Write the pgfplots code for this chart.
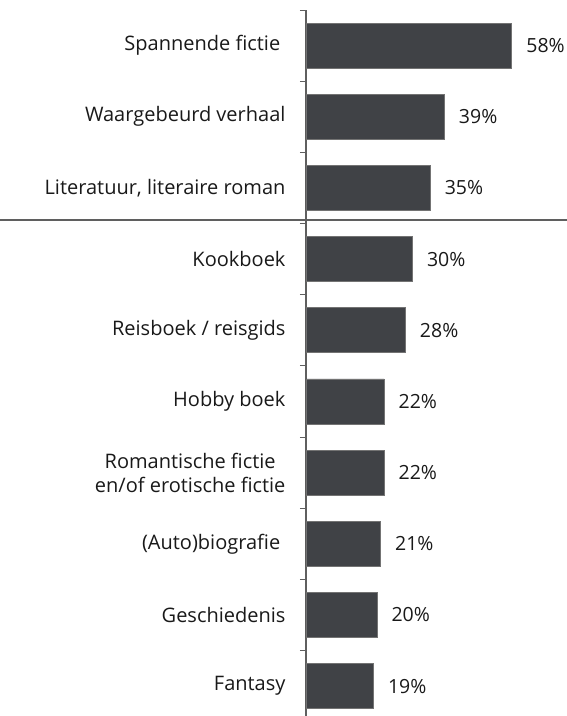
\documentclass[border=0pt]{standalone}
\usepackage{pgfplots}
\pgfplotsset{compat=1.18}
\usepackage{fontspec}
\setmainfont{Open Sans}
\definecolor{barc}{RGB}{64,66,70}
\definecolor{axc}{RGB}{95,95,95}
\begin{document}
\begin{tikzpicture}
  \path[use as bounding box] (0pt,0pt) rectangle (567pt,716pt);
  \begin{axis}[
    at={(306pt,706pt)}, anchor=north west,
    width=261pt, height=706pt, scale only axis,
    xmin=0, xmax=73.58,
    ymin=-0.5, ymax=9.42, y dir=reverse,
    axis x line=none,
    axis y line*=left,
    y axis line style={draw=axc, line width=1.1pt},
    ytick={0,...,9},
    minor ytick={-0.5,0.5,...,8.5},
    major tick length=0pt, minor tick length=6pt,
    tick align=outside,
    minor tick style={draw=axc, line width=1pt},
    yticklabels={Spannende fictie\ , Waargebeurd verhaal, {Literatuur, literaire roman}, Kookboek, Reisboek / reisgids, Hobby boek, {Romantische fictie\\en/of erotische fictie}, (Auto)biografie\ , Geschiedenis, Fantasy},
    yticklabel style={font=\fontsize{20pt}{24pt}\selectfont, align=center, xshift=-17pt, text=black!90},
    xbar, bar width=45pt, bar shift=0pt,
    /pgf/number format/assume math mode=true,
    nodes near coords={\pgfmathprintnumber{\pgfplotspointmeta}\%},
    point meta=x,
    every node near coord/.append style={font=\fontsize{19.5pt}{24pt}\selectfont, anchor=west, xshift=11pt, text=black!90},
    clip=false,
  ]
    \addplot[fill=barc, draw=black!55, line width=0.6pt] coordinates {
      (58,0) (39,1) (35,2) (30,3) (28,4) (22,5) (22,6) (21,7) (20,8) (19,9)
    };
  \end{axis}
  \draw[draw=axc, line width=1.8pt] (0pt,496pt) -- (567pt,496pt);
\end{tikzpicture}
\end{document}
